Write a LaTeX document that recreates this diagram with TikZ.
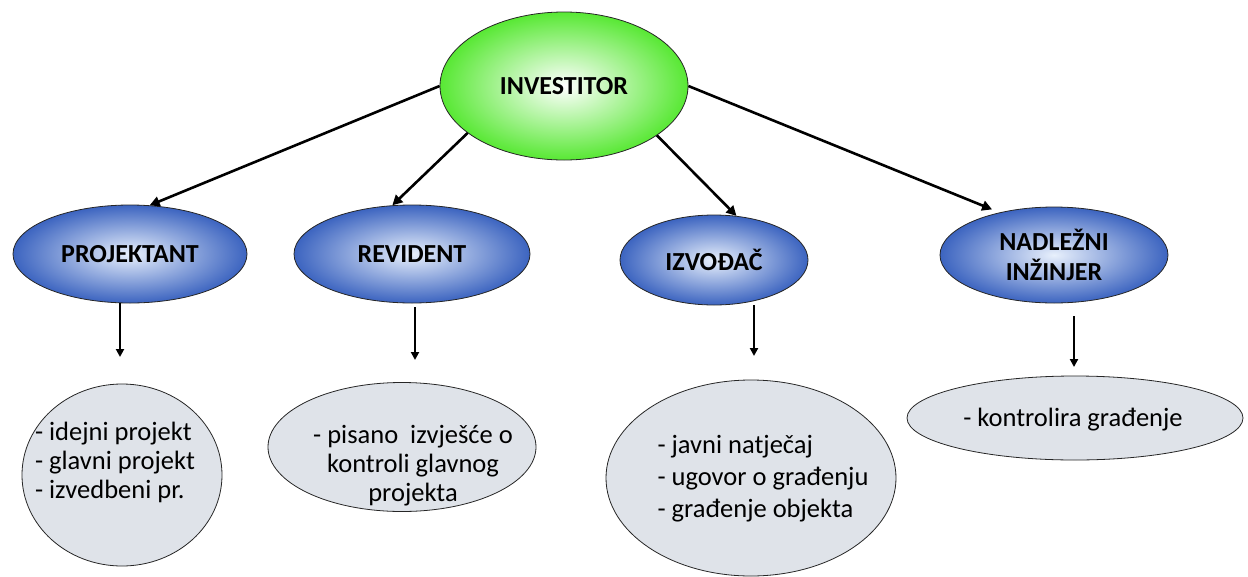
\documentclass[tikz,border=0pt]{standalone}
\usepackage{fontspec}
\setmainfont{Carlito}
\usetikzlibrary{shapes.geometric,arrows.meta}
\definecolor{topgreen}{RGB}{88,232,52}
\definecolor{roleblue}{RGB}{60,100,192}
\definecolor{roleinner}{RGB}{232,240,252}
\definecolor{taskgray}{RGB}{223,227,233}
\begin{document}
\begin{tikzpicture}[x=1pt,y=-1pt,
  every node/.style={font=\fontsize{26.5}{29}\selectfont, text=black},
  ell/.style={ellipse, draw=black!85, line width=0.8pt, inner sep=0pt},
  topell/.style={ell, shading=radial, inner color=white, outer color=topgreen,
    minimum width=248pt, minimum height=148pt, font=\fontsize{26}{29}\selectfont\bfseries},
  roleell/.style={ell, shading=radial, inner color=roleinner, outer color=roleblue,
    font=\fontsize{26}{30}\selectfont\bfseries, align=center},
  taskell/.style={ell, fill=taskgray},
  tasktext/.style={inner sep=0pt},
  arr/.style={-{Triangle[length=10pt,width=10pt]}, line width=2.6pt},
  varr/.style={-{Triangle[length=8pt,width=8pt]}, line width=2pt}
]
\useasboundingbox (0,0) rectangle (1248,576);

\node[topell] (inv) at (564,86) {INVESTITOR};

\node[roleell, minimum width=234pt, minimum height=98pt] (proj) at (130,254) {PROJEKTANT};
\node[roleell, minimum width=236pt, minimum height=98pt] (rev) at (412,254) {REVIDENT};
\node[roleell, minimum width=188pt, minimum height=90pt] (izv) at (714,260) {IZVOĐAČ};
\node[roleell, minimum width=228pt, minimum height=96pt] (nad) at (1054,255) {NADLEŽNI\\INŽINJER};

\node[taskell, minimum width=200pt, minimum height=182pt] (g1) at (122,475) {};
\node[taskell, minimum width=268pt, minimum height=129pt] (g2) at (402,447) {};
\node[taskell, minimum width=290pt, minimum height=196pt] (g3) at (751,478) {};
\node[taskell, minimum width=336pt, minimum height=84pt] (g4) at (1075,418) {};

\node[tasktext, align=left] (g1t) at (115,462) {- idejni projekt\\- glavni projekt\\- izvedbeni pr.};
\node[tasktext, align=center] (g2t) at (413,466) {- pisano\ \ izvješće o\\kontroli glavnog\\projekta};
\node[tasktext, align=left, font=\fontsize{26.5}{32}\selectfont] (g3t) at (763,479) {- javni natječaj\\- ugovor o građenju\\- građenje objekta};
\node[tasktext] (g4t) at (1073,420) {- kontrolira građenje};

\draw[arr] (inv.west) -- (proj.68);
\draw[arr] (inv.206) -- (rev.112);
\draw[arr] (inv.332) -- (izv.63);
\draw[arr, shorten >=8pt] (inv.east) -- (nad.142);

\coordinate (t1) at (120,357);
\coordinate (t2) at (415,360);
\coordinate (t3) at (754,356);
\coordinate (t4) at (1074,367);
\draw[varr] (proj.south -| t1) -- (t1);
\draw[varr, shorten <=4pt] (rev.south -| t2) -- (t2);
\draw[varr] (izv.south -| t3) -- (t3);
\draw[varr, shorten <=13pt] (nad.south -| t4) -- (t4);
\end{tikzpicture}
\end{document}
